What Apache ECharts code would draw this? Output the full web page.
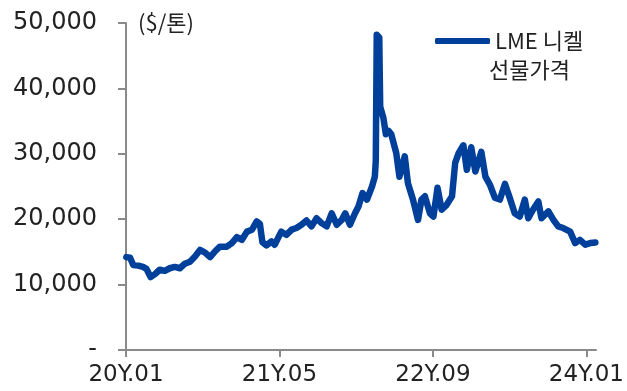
<!DOCTYPE html>
<html>
<head>
<meta charset="utf-8">
<script src="https://cdn.jsdelivr.net/npm/echarts@6/dist/echarts.min.js"></script>
<style>
  html, body { margin: 0; padding: 0; background: #fff; }
  #chart { width: 627px; height: 391px; }
</style>
</head>
<body>
<div id="chart"></div>
<script>
// LME 니켈 선물가격 ($/톤)
const dates = [
  '2020-01-02','2020-01-14','2020-01-24','2020-02-09','2020-02-24','2020-03-06','2020-03-19','2020-04-02',
  '2020-04-17','2020-05-03','2020-05-19','2020-06-04','2020-06-20','2020-07-06','2020-07-22','2020-08-07',
  '2020-08-23','2020-09-08','2020-09-24','2020-10-10','2020-10-25','2020-11-16','2020-12-02','2020-12-18',
  '2021-01-03','2021-01-19','2021-02-04','2021-02-19','2021-03-01','2021-03-09','2021-03-22','2021-04-07',
  '2021-04-17','2021-05-08','2021-05-24','2021-06-10','2021-06-25','2021-07-11','2021-07-27','2021-08-12',
  '2021-08-28','2021-09-13','2021-09-29','2021-10-15','2021-10-31','2021-11-16','2021-11-27','2021-12-12',
  '2021-12-28',
  '2022-01-08','2022-01-21','2022-02-04','2022-02-20','2022-03-01','2022-03-04','2022-03-07','2022-03-15',
  '2022-03-18','2022-03-28','2022-04-05','2022-04-14','2022-04-22','2022-04-28','2022-05-08','2022-05-18',
  '2022-06-04','2022-06-14','2022-06-30','2022-07-16','2022-07-27','2022-08-07','2022-08-23','2022-09-03',
  '2022-09-16','2022-09-29','2022-10-15','2022-11-01','2022-11-11','2022-11-22','2022-12-07','2022-12-18',
  '2023-01-01','2023-01-14','2023-02-02','2023-02-15','2023-03-01','2023-03-17','2023-04-02','2023-04-18',
  '2023-05-03','2023-05-19','2023-06-04','2023-06-20','2023-07-01','2023-07-16','2023-08-02','2023-08-12',
  '2023-09-03','2023-09-19','2023-10-04','2023-10-20','2023-11-11','2023-11-27','2023-12-12','2023-12-29',
  '2024-01-14','2024-01-30'
]
const prices = [
  14200,14100,13000,12900,12700,12400,11150,11600,
  12270,12100,12500,12700,12500,13200,13500,14300,
  15300,14900,14200,15100,15800,15800,16350,17250,
  16850,18100,18400,19650,19300,16500,16000,16600,
  16100,18100,17600,18400,18650,19150,19800,18900,
  20150,19400,18900,20900,19150,19900,20900,19150,
  20900,
  21950,24000,23000,25000,26500,29000,48200,47800,
  37200,35500,33000,33500,33000,33150,30100,26500,
  29600,25500,23000,19900,23000,23500,20900,20400,
  24800,21450,22200,23500,28600,30100,31300,27550,
  31000,27300,30300,26500,25300,23300,23000,25400,
  23300,20900,20400,23000,20150,21450,22700,20150,
  21200,19900,18900,18650,18100,16350,16850,16100,
  16350,16450
]
const yTicks = [0, 10000, 20000, 30000, 40000, 50000]
const labelMonths = ['2020-01', '2021-05', '2022-09', '2024-01']

// month categories 2020-01 .. 2024-02, used only for the ticks / labels
const months = []
for (let y = 2020; y <= 2024; y++) {
  for (let m = 1; m <= 12; m++) {
    if (y === 2024 && m > 2) break
    months.push(y + '-' + String(m).padStart(2, '0'))
  }
}

const lineColor = '#00409a'
const axisColor = '#8a8a8a'
const textColor = '#222'
const numFont = "'DejaVu Sans', 'Noto Sans CJK KR', sans-serif"
const krFont = "'Noto Sans CJK KR', sans-serif"

const chart = echarts.init(document.getElementById('chart'))

chart.setOption({
  animation: false,
  backgroundColor: '#fff',
  grid: { left: 126, right: 31, top: 23, bottom: 41 },
  legend: {
    data: ['LME 니켈'],
    left: 430,
    top: 25,
    icon: 'roundRect',
    itemWidth: 55,
    itemHeight: 6,
    itemStyle: { color: lineColor },
    textStyle: { color: textColor, fontSize: 22, fontFamily: krFont }
  },
  graphic: [
    {
      type: 'text',
      left: 489,
      top: 59,
      style: { text: '선물가격', fill: textColor, fontSize: 22, fontFamily: krFont }
    }
  ],
  xAxis: [
    {
      type: 'category',
      data: months,
      boundaryGap: false,
      axisLine: { lineStyle: { color: axisColor, width: 2 } },
      axisTick: {
        length: 7,
        lineStyle: { color: axisColor, width: 2 },
        interval: (i, v) => labelMonths.includes(v)
      },
      axisLabel: {
        interval: (i, v) => labelMonths.includes(v),
        formatter: v => v.slice(2, 4) + 'Y.' + v.slice(5),
        color: textColor,
        fontSize: 23,
        fontFamily: numFont,
        margin: 14
      },
      splitLine: { show: false }
    },
    {
      type: 'time',
      min: '2020-01-01',
      max: '2024-02-01',
      show: false
    }
  ],
  yAxis: {
    type: 'value',
    min: yTicks[0],
    max: yTicks[yTicks.length - 1],
    interval: 10000,
    name: '($/톤)',
    nameLocation: 'end',
    nameGap: 0,
    nameTextStyle: {
      color: textColor,
      fontSize: 22,
      fontFamily: krFont,
      align: 'left',
      verticalAlign: 'middle',
      padding: [0, 0, 0, 12]
    },
    axisLine: { show: true, lineStyle: { color: axisColor, width: 2 } },
    axisTick: { show: true, length: 8, lineStyle: { color: axisColor, width: 2 } },
    axisLabel: {
      formatter: v => (v === 0 ? '-' : v.toLocaleString('en-US')),
      color: textColor,
      fontSize: 24,
      fontFamily: numFont,
      margin: 29
    },
    splitLine: { show: false }
  },
  series: [
    {
      name: 'LME 니켈',
      type: 'line',
      xAxisIndex: 1,
      data: dates.map((d, i) => [d, prices[i]]),
      showSymbol: false,
      symbol: 'none',
      lineStyle: { color: lineColor, width: 6.5, cap: 'round', join: 'round' },
      itemStyle: { color: lineColor }
    }
  ]
})
</script>
</body>
</html>
